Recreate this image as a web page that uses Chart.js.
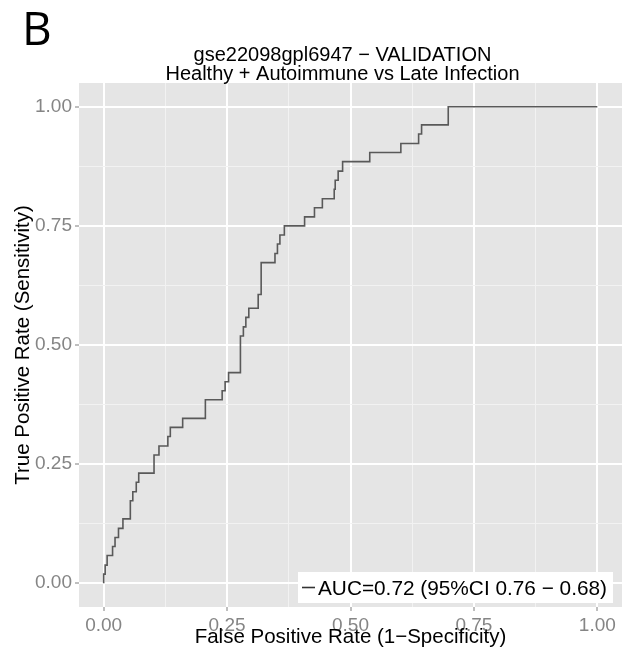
<!DOCTYPE html>
<html>
<head>
<meta charset="utf-8">
<script src="https://cdn.jsdelivr.net/npm/chart.js@4.4.1/dist/chart.umd.min.js"></script>
<style>
  html, body { margin: 0; padding: 0; background: #fff; }
  #wrap { width: 629px; height: 651px; position: relative; }
</style>
</head>
<body>
<div id="wrap"><canvas id="roc"></canvas></div>
<script>
// ROC curve points (false positive rate, true positive rate)
const fprValues = [0, 0, 0.003, 0.007, 0.018, 0.023, 0.030, 0.039, 0.054, 0.059,
  0.066, 0.071, 0.102, 0.112, 0.130, 0.135, 0.160, 0.206, 0.240, 0.246,
  0.253, 0.277, 0.283, 0.288, 0.294, 0.313, 0.319, 0.347, 0.352, 0.357,
  0.366, 0.407, 0.427, 0.443, 0.467, 0.469, 0.475, 0.484, 0.539, 0.602,
  0.638, 0.644, 0.698, 1.0];
const tprValues = [0, 0.019, 0.038, 0.058, 0.077, 0.096, 0.115, 0.135, 0.173, 0.192,
  0.212, 0.231, 0.269, 0.288, 0.308, 0.327, 0.346, 0.385, 0.404, 0.423,
  0.442, 0.519, 0.538, 0.558, 0.577, 0.606, 0.673, 0.692, 0.712, 0.731,
  0.750, 0.769, 0.788, 0.807, 0.827, 0.846, 0.865, 0.885, 0.904, 0.923,
  0.943, 0.962, 1.0, 1.0];

const tickValues = [0, 0.25, 0.5, 0.75, 1];
const tickLabels = ["0.00", "0.25", "0.50", "0.75", "1.00"];
const minorValues = [0.125, 0.375, 0.625, 0.875];

const panelLetter = "B";
const titleLines = ["gse22098gpl6947 \u2212 VALIDATION", "Healthy + Autoimmune vs Late Infection"];
const xTitle = "False Positive Rate (1\u2212Specificity)";
const yTitle = "True Positive Rate (Sensitivity)";
const aucLabel = "AUC=0.72 (95%CI 0.76 \u2212 0.68)";

const allTicks = tickValues.concat(minorValues).sort((a, b) => a - b);
const isMajor = (v) => tickValues.includes(v);

// grey panel + white page
const panelBg = {
  id: "panelBg",
  beforeDraw(chart) {
    const { ctx, chartArea: a } = chart;
    ctx.save();
    ctx.fillStyle = "#ffffff";
    ctx.fillRect(0, 0, chart.width, chart.height);
    ctx.fillStyle = "#E5E5E5";
    ctx.fillRect(a.left, a.top, a.right - a.left, a.bottom - a.top);
    ctx.restore();
  },
};

// titles, axis titles and the legend box (ggplot style)
const decorations = {
  id: "decorations",
  afterDraw(chart) {
    const { ctx, chartArea: a } = chart;
    const cx = (a.left + a.right) / 2;
    ctx.save();
    ctx.fillStyle = "#000";

    ctx.font = '46px "Open Sans"';
    ctx.textAlign = "left";
    ctx.textBaseline = "alphabetic";
    ctx.fillText(panelLetter, 22, 45);

    ctx.font = '20px "Liberation Sans"';
    ctx.textAlign = "center";
    ctx.fillText(titleLines[0], cx - 8, 61);
    ctx.fillText(titleLines[1], cx - 8, 80);

    ctx.font = '20.5px "Liberation Sans"';
    ctx.fillText(xTitle, cx, 643);

    ctx.save();
    ctx.translate(23, (a.top + a.bottom) / 2);
    ctx.rotate(-Math.PI / 2);
    ctx.textBaseline = "middle";
    ctx.fillText(yTitle, 0, 0);
    ctx.restore();

    // legend
    ctx.fillStyle = "#ffffff";
    ctx.fillRect(298, 572, 315, 31);
    ctx.strokeStyle = "#333333";
    ctx.lineWidth = 1.6;
    ctx.beginPath();
    ctx.moveTo(302, 587.5);
    ctx.lineTo(315, 587.5);
    ctx.stroke();
    ctx.fillStyle = "#000";
    // size the label so it spans the same width as in the picture
    ctx.font = '20px "Liberation Sans"';
    const size = Math.min(22, 20 * 289 / ctx.measureText(aucLabel).width);
    ctx.font = size.toFixed(2) + 'px "Liberation Sans"';
    ctx.textAlign = "left";
    ctx.textBaseline = "alphabetic";
    ctx.fillText(aucLabel, 318, 595);
    ctx.restore();
  },
};

function axisOptions(fit) {
  return {
    type: "linear",
    min: -0.05,
    max: 1.05,
    afterBuildTicks: (s) => { s.ticks = allTicks.map((v) => ({ value: v })); },
    afterFit: fit,
    border: { display: false },
    grid: {
      drawTicks: true,
      tickLength: 4,
      color: (c) => (isMajor(c.tick.value) ? "#FFFFFF" : "#F2F2F2"),
      lineWidth: (c) => (isMajor(c.tick.value) ? 2 : 1),
      tickColor: (c) => (isMajor(c.tick.value) ? "#7F7F7F" : "rgba(0,0,0,0)"),
      tickWidth: 1,
    },
    ticks: {
      autoSkip: false,
      maxRotation: 0,
      padding: 3,
      color: "#858585",
      font: { family: "Liberation Sans", size: 19 },
      callback: (v) => {
        const i = tickValues.indexOf(v);
        return i >= 0 ? tickLabels[i] : "";
      },
    },
  };
}

new Chart(document.getElementById("roc"), {
  type: "line",
  data: {
    datasets: [
      {
        data: fprValues.map((x, i) => ({ x: x, y: tprValues[i] })),
        borderColor: "#595959",
        borderWidth: 1.6,
        pointRadius: 0,
        stepped: "before",
        fill: false,
      },
    ],
  },
  options: {
    responsive: true,
    maintainAspectRatio: false,
    animation: false,
    devicePixelRatio: 1,
    layout: { padding: { top: 83, right: 7, left: 0, bottom: 0 } },
    plugins: { legend: { display: false }, tooltip: { enabled: false }, title: { display: false } },
    scales: {
      x: axisOptions((s) => { s.height = 44; }),
      y: axisOptions((s) => { s.width = 79; }),
    },
  },
  plugins: [panelBg, decorations],
});
</script>
</body>
</html>
